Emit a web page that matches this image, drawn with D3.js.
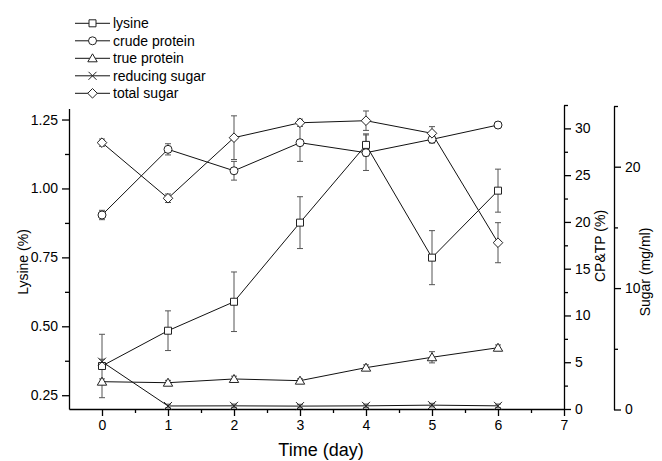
<!DOCTYPE html>
<html><head><meta charset="utf-8">
<script src="https://cdn.jsdelivr.net/npm/d3@7"></script>
<style>
body{margin:0;background:#fff;}
text{font-family:"Liberation Sans",Arial,sans-serif;fill:#000;}
</style></head>
<body><svg id="c" width="662" height="461"></svg>
<script>
const days = [0, 1, 2, 3, 4, 5, 6];
const lysine = [0.356, 0.484, 0.589, 0.876, 1.158, 0.749, 0.992];
const lysineErr = [0.115, 0.072, 0.108, 0.094, 0.04, 0.098, 0.078];
const crudeProtein = [20.74, 27.76, 25.47, 28.47, 27.4, 28.83, 30.36];
const crudeProteinErr = [0.5, 0.6, 1.0, 2.0, 1.9, 0.4, 0.3];
const trueProtein = [2.92, 2.81, 3.21, 3.03, 4.42, 5.53, 6.55];
const trueProteinErr = [0.3, 0.25, 0.3, 0.2, 0.3, 0.6, 0.3];
const reducingSugar = [3.94, 0.29, 0.3, 0.28, 0.3, 0.36, 0.3];
const reducingSugarErr = [0.2, 0.15, 0.15, 0.15, 0.15, 0.15, 0.15];
const totalSugar = [21.98, 17.4, 22.39, 23.62, 23.79, 22.75, 13.74];
const totalSugarErr = [0.3, 0.35, 1.8, 0.3, 0.8, 0.55, 1.65];
const xTicks = [0, 1, 2, 3, 4, 5, 6, 7];
const lysTicks = [0.25, 0.50, 0.75, 1.00, 1.25];
const cpTicks = [0, 5, 10, 15, 20, 25, 30];
const sugarTicks = [0, 10, 20];
const legendNames = ["lysine", "crude protein", "true protein", "reducing sugar", "total sugar"];

const svg = d3.select("#c");
const x = d3.scaleLinear().domain([-0.5, 7]).range([69, 564]);
const yL = d3.scaleLinear().domain([0.2, 1.29]).range([409, 108.5]);
const yCP = d3.scaleLinear().domain([0, 32.5]).range([409, 105]);
const yS = d3.scaleLinear().domain([0, 25]).range([409.5, 106]);

const fs = "14px";
svg.append("g").attr("transform","translate(0,409)")
  .call(d3.axisBottom(x).tickValues(xTicks).tickFormat(d3.format("d")).tickSize(7).tickSizeOuter(0).tickPadding(4));
svg.append("g").attr("transform","translate(0,409)")
  .call(d3.axisBottom(x).tickValues(d3.range(0.5,7,1)).tickFormat("").tickSize(4).tickSizeOuter(0))
  .select(".domain").remove();

svg.append("g").attr("transform","translate(69,0)")
  .call(d3.axisLeft(yL).tickValues(lysTicks).tickFormat(d3.format(".2f")).tickSize(7).tickSizeOuter(0).tickPadding(4));
svg.append("g").attr("transform","translate(69,0)")
  .call(d3.axisLeft(yL).tickValues([0.375,0.625,0.875,1.125]).tickFormat("").tickSize(4).tickSizeOuter(0))
  .select(".domain").remove();

svg.append("g").attr("transform","translate(564,0)")
  .call(d3.axisRight(yCP).tickValues(cpTicks).tickFormat(d3.format("d")).tickSize(7).tickSizeOuter(0).tickPadding(4));
svg.append("g").attr("transform","translate(564,0)")
  .call(d3.axisRight(yCP).tickValues([2.5,7.5,12.5,17.5,22.5,27.5,32.5]).tickFormat("").tickSize(4).tickSizeOuter(0))
  .select(".domain").remove();

svg.append("g").attr("transform","translate(614,0)")
  .call(d3.axisRight(yS).tickValues(sugarTicks).tickFormat(d3.format("d")).tickSize(7).tickSizeOuter(0).tickPadding(4));
svg.append("g").attr("transform","translate(614,0)")
  .call(d3.axisRight(yS).tickValues([5,15,25]).tickFormat("").tickSize(4).tickSizeOuter(0))
  .select(".domain").remove();

svg.selectAll(".tick text").style("font-size",fs).style("font-family","'Liberation Sans',Arial,sans-serif").attr("fill","#000");
svg.selectAll(".domain, .tick line").attr("stroke","#000").attr("stroke-width",1.3);

svg.append("text").attr("x",321).attr("y",456).attr("text-anchor","middle").style("font-size","18px").text("Time (day)");
svg.append("text").attr("transform","translate(28,262) rotate(-90)").attr("text-anchor","middle").style("font-size",fs).text("Lysine (%)");
svg.append("text").attr("transform","translate(605,246) rotate(-90)").attr("text-anchor","middle").style("font-size",fs).text("CP&TP (%)");
svg.append("text").attr("transform","translate(650,272) rotate(-90)").attr("text-anchor","middle").style("font-size",fs).text("Sugar (mg/ml)");

const markers = {
  square: "M-3.5,-3.5H3.5V3.5H-3.5Z",
  circle: "M4,0A4,4 0 1,1 -4,0A4,4 0 1,1 4,0Z",
  triangle: "M0,-4.5L4.7,3.5H-4.7Z",
  cross: "M-4,-4L4,4M-4,4L4,-4",
  diamond: "M0,-4.8L4.8,0L0,4.8L-4.8,0Z"
};

const series = [
  {name:legendNames[0], vals:lysine, err:lysineErr, y:yL, m:"square"},
  {name:legendNames[1], vals:crudeProtein, err:crudeProteinErr, y:yCP, m:"circle"},
  {name:legendNames[2], vals:trueProtein, err:trueProteinErr, y:yCP, m:"triangle"},
  {name:legendNames[3], vals:reducingSugar, err:reducingSugarErr, y:yS, m:"cross"},
  {name:legendNames[4], vals:totalSugar, err:totalSugarErr, y:yS, m:"diamond"}
];

const plot = svg.append("g");
series.forEach(s=>{
  const line = d3.line().x((d,i)=>x(days[i])).y(d=>s.y(d));
  plot.append("path").attr("d",line(s.vals)).attr("fill","none").attr("stroke","#111").attr("stroke-width",1);
});
series.forEach(s=>{
  const g = plot.append("g");
  s.vals.forEach((v,i)=>{
    const cx = x(days[i]), y1 = s.y(v + s.err[i]), y2 = s.y(v - s.err[i]);
    g.append("line").attr("x1",cx).attr("x2",cx).attr("y1",y1).attr("y2",y2).attr("stroke","#555").attr("stroke-width",1);
    [y1,y2].forEach(yy=>g.append("line").attr("x1",cx-3).attr("x2",cx+3).attr("y1",yy).attr("y2",yy).attr("stroke","#555").attr("stroke-width",1));
  });
});
series.forEach(s=>{
  plot.append("g").selectAll("path").data(s.vals).join("path")
    .attr("transform",(d,i)=>`translate(${x(days[i])},${s.y(d)})`)
    .attr("d",markers[s.m]).attr("fill",s.m==="cross"?"none":"#fff").attr("stroke","#222").attr("stroke-width",1);
});

const leg = svg.append("g");
const legY = d3.scalePoint().domain(legendNames).range([23.3, 93.3]);
series.forEach(s=>{
  const yy = legY(s.name);
  leg.append("line").attr("x1",75).attr("x2",110).attr("y1",yy).attr("y2",yy).attr("stroke","#111").attr("stroke-width",1);
  leg.append("path").attr("transform",`translate(92.5,${yy})`).attr("d",markers[s.m]).attr("fill",s.m==="cross"?"none":"#fff").attr("stroke","#222");
  leg.append("text").attr("x",113).attr("y",yy+5).style("font-size",fs).text(s.name);
});
</script></body></html>
